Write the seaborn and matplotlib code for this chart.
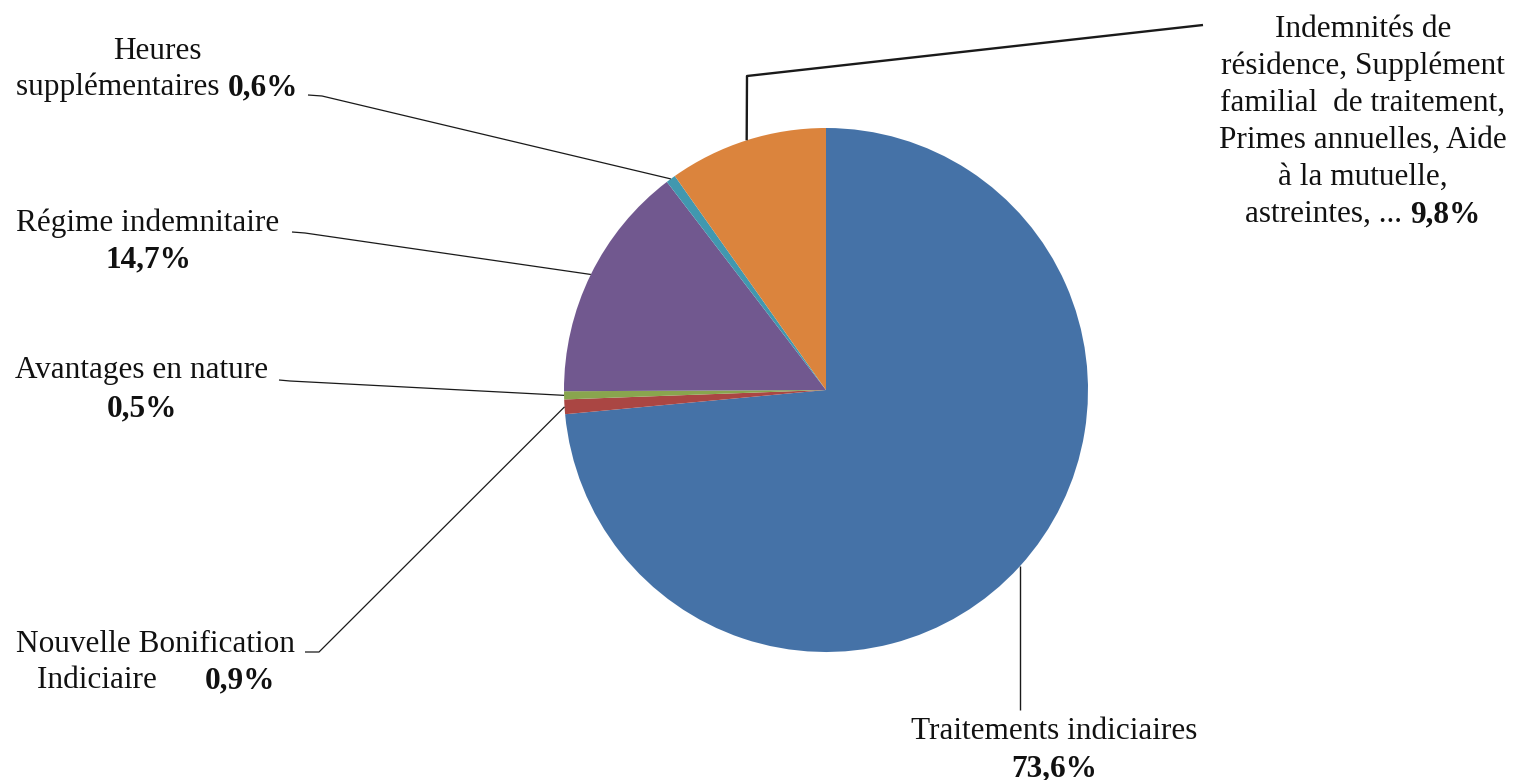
import matplotlib
matplotlib.use("Agg")
import numpy as np
import matplotlib.pyplot as plt
import seaborn as sns
from matplotlib.lines import Line2D

# ---- data -------------------------------------------------------------
categories = [
    "Traitements indiciaires",
    "Nouvelle Bonification Indiciaire",
    "Avantages en nature",
    "Régime indemnitaire",
    "Heures supplémentaires",
    "Indemnités de résidence, Supplément familial de traitement, "
    "Primes annuelles, Aide à la mutuelle, astreintes, ...",
]
shares = [73.6, 0.9, 0.5, 14.7, 0.6, 9.8]
colors = ["#4572A7", "#AA4643", "#89A54E", "#71588F", "#4198AF", "#DB843D"]

# label text, split into lines (value appended in bold where marked)
label_lines = [
    [["Traitements indiciaires"], ["<v>"]],
    [["Nouvelle Bonification"], ["Indiciaire      ", "<v>"]],
    [["Avantages en nature"], ["<v>"]],
    [["Régime indemnitaire"], ["<v>"]],
    [["Heures"], ["supplémentaires ", "<v>"]],
    [["Indemnités de"], ["résidence, Supplément"], ["familial  de traitement,"],
     ["Primes annuelles, Aide"], ["à la mutuelle,"], ["astreintes, ... ", "<v>"]],
]

# ---- figure -----------------------------------------------------------
W, H = 1516, 780
sns.set_theme(style="white")
plt.rcParams["font.family"] = ["Liberation Serif", "DejaVu Serif"]
FS = 22.5
TXT = "#111111"

fig = plt.figure(figsize=(W / 100, H / 100), dpi=100)
fig.patch.set_facecolor("white")

cx, cy, R = 826, 390, 262
ax = fig.add_axes([(cx - R) / W, 1 - (cy + R) / H, 2 * R / W, 2 * R / H])
wedges, _ = ax.pie(shares, colors=colors, startangle=90, counterclock=False,
                   radius=1.0, wedgeprops=dict(linewidth=0))
ax.set_xlim(-1, 1)
ax.set_ylim(-1, 1)
ax.set_aspect("equal")
ax.set_axis_off()

fig.canvas.draw()
renderer = fig.canvas.get_renderer()


def fmt(v):
    return f"{v:.1f}".replace(".", ",") + "%"


def seg_width(s, bold):
    w = "bold" if bold else "normal"
    t1 = fig.text(0, 0, s + "|", fontsize=FS, weight=w)
    t2 = fig.text(0, 0, "|", fontsize=FS, weight=w)
    width = t1.get_window_extent(renderer).width - t2.get_window_extent(renderer).width
    t1.remove()
    t2.remove()
    return width


def draw_line(segs, xc, base_y):
    widths = [seg_width(s, b) for s, b in segs]
    x = xc - sum(widths) / 2
    for (s, b), w in zip(segs, widths):
        fig.text(x / W, 1 - base_y / H, s, fontsize=FS, color=TXT,
                 weight="bold" if b else "normal", ha="left", va="baseline")
        x += w


def anchor_px(wedge):
    mid = np.deg2rad((wedge.theta1 + wedge.theta2) / 2)
    dx, dy = ax.transData.transform((np.cos(mid), np.sin(mid)))
    return dx, H - dy


def leader(points, lw):
    xs = [p[0] / W for p in points]
    ys = [1 - p[1] / H for p in points]
    fig.add_artist(Line2D(xs, ys, transform=fig.transFigure, color="#1a1a1a",
                          lw=lw, solid_capstyle="butt"))


# label placement: centre x and baselines (pixels from top)
label_pos = [
    (1054, [739, 776]),
    (156, [652, 688]),
    (142, [378, 416]),
    (148, [231, 267]),
    (157, [59, 95]),
    (1363, [37, 74, 111, 148, 185, 222]),
]

for i, (xc, baselines) in enumerate(label_pos):
    for line, by in zip(label_lines[i], baselines):
        segs = [(fmt(shares[i]), True) if s == "<v>" else (s, False) for s in line]
        draw_line(segs, xc, by)

# leader lines
a = [anchor_px(w) for w in wedges]
leader([a[0], (a[0][0], 710)], 1.0)
leader([(305, 652), (319, 652), a[1]], 0.9)
leader([(279, 380), (290, 381), a[2]], 0.9)
leader([(292, 232), (305, 233), a[3]], 0.9)
leader([(308, 95), (322, 96), a[4]], 0.9)
leader([a[5], (747, 76), (1203, 25)], 1.7)

fig.savefig("out.png", dpi=100, facecolor="white")
